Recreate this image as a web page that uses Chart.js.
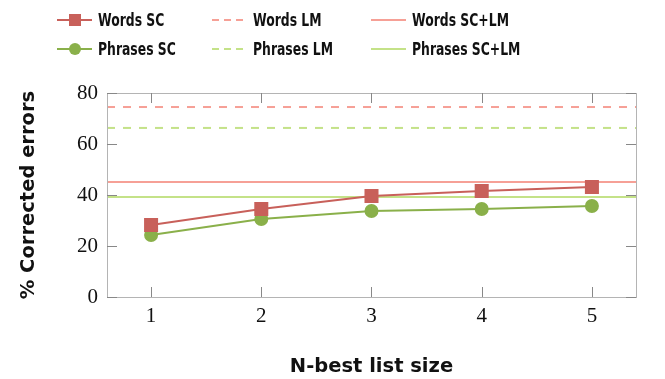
<!DOCTYPE html>
<html>
<head>
<meta charset="utf-8">
<script src="https://cdn.jsdelivr.net/npm/chart.js@4"></script>
<style>
  html, body { margin: 0; padding: 0; background: #fff; }
  #wrap { position: relative; width: 665px; height: 379px; }
  #legend { position: absolute; left: 0; top: 0; width: 665px; height: 70px;
    font-family: "DejaVu Sans Condensed", "DejaVu Sans", sans-serif;
    font-weight: bold; font-size: 17px; color: #111; }
  .item { position: absolute; display: flex; align-items: center; height: 20px; white-space: nowrap; }
  .item svg { margin-right: 6px; }
  .item span { display: inline-block; transform: scaleX(0.81); transform-origin: left center; }
</style>
</head>
<body>
<div id="wrap">
  <canvas id="chartLine" width="665" height="379"></canvas>
  <div id="legend"></div>
</div>
<script>
const nbest = [1, 2, 3, 4, 5];
const wordsSC = [28.2, 34.5, 39.6, 41.6, 43.1];
const phrasesSC = [24.3, 30.6, 33.7, 34.5, 35.7];
const wordsLM = 74.5;
const phrasesLM = 66.3;
const wordsSCLM = 45.1;
const phrasesSCLM = 39.2;
const yTicks = [0, 20, 40, 60, 80];
const xMin = 0.6, xMax = 5.4;

const red = "rgb(200, 96, 90)";
const green = "rgb(138, 176, 74)";
const lightRed = "rgb(246, 160, 150)";
const lightGreen = "rgb(196, 226, 136)";

const flat = (v) => [{ x: xMin, y: v }, { x: xMax, y: v }];
const pts = (arr) => nbest.map((n, i) => ({ x: n, y: arr[i] }));

const datasets = [
  { label: "Words SC", data: pts(wordsSC), borderColor: red, backgroundColor: red,
    borderWidth: 2, pointStyle: "rect", pointRadius: 8.5, pointHoverRadius: 8.5 },
  { label: "Phrases SC", data: pts(phrasesSC), borderColor: green, backgroundColor: green,
    borderWidth: 2, pointStyle: "circle", pointRadius: 6, pointHoverRadius: 6 },
  { label: "Words LM", data: flat(wordsLM), borderColor: lightRed, borderDash: [8, 8],
    borderWidth: 2, pointRadius: 0 },
  { label: "Phrases LM", data: flat(phrasesLM), borderColor: lightGreen, borderDash: [8, 8],
    borderWidth: 2, pointRadius: 0 },
  { label: "Words SC+LM", data: flat(wordsSCLM), borderColor: lightRed,
    borderWidth: 2, pointRadius: 0 },
  { label: "Phrases SC+LM", data: flat(phrasesSCLM), borderColor: lightGreen,
    borderWidth: 2, pointRadius: 0 },
];

// box around plot with inward ticks on all four sides
const boxPlugin = {
  id: "box",
  afterDraw(chart) {
    const { ctx, chartArea: a, scales } = chart;
    ctx.save();
    ctx.strokeStyle = "#b4b4b4";
    ctx.lineWidth = 1;
    ctx.strokeRect(a.left + 0.5, a.top + 0.5, a.right - a.left, a.bottom - a.top);
    ctx.strokeStyle = "#888";
    ctx.beginPath();
    yTicks.forEach((v) => {
      const y = Math.round(scales.y.getPixelForValue(v)) + 0.5;
      ctx.moveTo(a.left, y); ctx.lineTo(a.left + 10, y);
      ctx.moveTo(a.right, y); ctx.lineTo(a.right - 10, y);
    });
    nbest.forEach((v) => {
      const x = Math.round(scales.x.getPixelForValue(v)) + 0.5;
      ctx.moveTo(x, a.bottom); ctx.lineTo(x, a.bottom - 10);
      ctx.moveTo(x, a.top); ctx.lineTo(x, a.top + 10);
    });
    ctx.stroke();
    ctx.restore();
  },
};

new Chart(document.getElementById("chartLine"), {
  type: "line",
  data: { datasets },
  plugins: [boxPlugin],
  options: {
    responsive: false,
    animation: false,
    layout: { padding: { top: 93, right: 29, left: 0, bottom: 0 } },
    plugins: { legend: { display: false }, tooltip: { enabled: false } },
    scales: {
      x: {
        type: "linear", min: xMin, max: xMax,
        afterBuildTicks: (s) => { s.ticks = nbest.map((v) => ({ value: v })); },
        afterFit: (s) => { s.height = 82; },
        grid: { display: false, drawTicks: false }, border: { display: false },
        ticks: { color: "#111", padding: 7, font: { family: "Liberation Serif", size: 21 } },
        title: { display: true, text: "N-best list size", color: "#111",
          padding: { top: 0, bottom: 0 }, font: { family: "DejaVu Sans", weight: "bold", size: 19.5 } },
      },
      y: {
        min: 0, max: 80,
        afterBuildTicks: (s) => { s.ticks = yTicks.map((v) => ({ value: v })); },
        afterFit: (s) => { s.width = 107; },
        grid: { display: false, drawTicks: false }, border: { display: false },
        ticks: { color: "#111", padding: 9, font: { family: "Liberation Serif", size: 21 } },
        title: { display: true, text: "% Corrected errors", color: "#111",
          padding: { top: 17, bottom: 0 }, font: { family: "DejaVu Sans", weight: "bold", size: 19.5 } },
      },
    },
  },
});

// legend, 3 columns x 2 rows
const legendItems = [
  { text: "Words SC", color: red, marker: "rect", dash: false, x: 57, y: 10 },
  { text: "Words LM", color: lightRed, marker: null, dash: true, x: 212, y: 10 },
  { text: "Words SC+LM", color: lightRed, marker: null, dash: false, x: 371, y: 10 },
  { text: "Phrases SC", color: green, marker: "circle", dash: false, x: 57, y: 39 },
  { text: "Phrases LM", color: lightGreen, marker: null, dash: true, x: 212, y: 39 },
  { text: "Phrases SC+LM", color: lightGreen, marker: null, dash: false, x: 371, y: 39 },
];
const legend = document.getElementById("legend");
legendItems.forEach((it) => {
  const d = document.createElement("div");
  d.className = "item";
  d.style.left = it.x + "px";
  d.style.top = it.y + "px";
  let m = "";
  if (it.marker === "rect") m = `<rect x="12" y="4" width="12" height="12" fill="${it.color}"/>`;
  if (it.marker === "circle") m = `<circle cx="18" cy="10" r="6" fill="${it.color}"/>`;
  const x2 = it.dash ? 31 : 35;
  const dash = it.dash ? ' stroke-dasharray="7 5"' : "";
  d.innerHTML = `<svg width="35" height="20"><line x1="0" y1="10" x2="${x2}" y2="10" stroke="${it.color}" stroke-width="2"${dash}/>${m}</svg><span>${it.text}</span>`;
  legend.appendChild(d);
});
</script>
</body>
</html>
